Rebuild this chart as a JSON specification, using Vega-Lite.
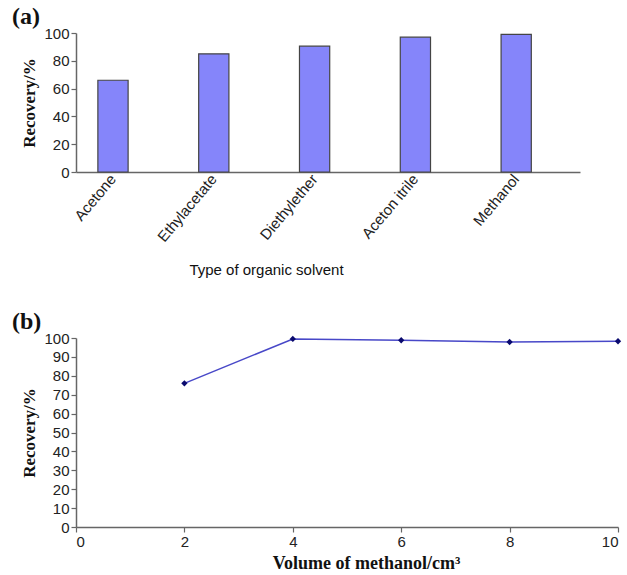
{
  "$schema": "https://vega.github.io/schema/vega-lite/v6.json",
  "padding": {"left": 11, "top": 5, "right": 2, "bottom": 3},
  "background": "white",
  "spacing": 32,
  "config": {
    "view": {"stroke": null},
    "axis": {
      "labelFont": "Liberation Sans",
      "labelFontSize": 15,
      "labelColor": "#222",
      "titleFont": "Liberation Serif",
      "titleFontWeight": "bold",
      "titleFontSize": 17,
      "titleColor": "#111",
      "domainColor": "#666",
      "domainWidth": 1.5,
      "tickColor": "#666",
      "tickWidth": 1.2,
      "tickSize": 5,
      "grid": false
    },
    "title": {"font": "Liberation Serif", "fontWeight": "bold", "fontSize": 24, "color": "#111"}
  },
  "vconcat": [
    {
      "title": {"text": "(a)", "anchor": "start", "frame": "bounds", "dx": -9, "dy": 9, "offset": 6},
      "width": 504,
      "height": 139,
      "data": {"values": [
        {"solvent": "Acetone", "recovery": 66},
        {"solvent": "Ethylacetate", "recovery": 85},
        {"solvent": "Diethylether", "recovery": 90.5},
        {"solvent": "Aceton itrile", "recovery": 97},
        {"solvent": "Methanol", "recovery": 99}
      ]},
      "mark": {"type": "bar", "color": "#8585fa", "stroke": "#444", "strokeWidth": 1.2},
      "encoding": {
        "x": {
          "field": "solvent", "type": "nominal", "sort": null,
          "scale": {"paddingInner": 0.7, "paddingOuter": 0.35, "align": 0.31},
          "axis": {
            "title": "Type of organic solvent",
            "titleFont": "Liberation Sans", "titleFontWeight": "normal", "titleFontSize": 15,
            "titleX": 190, "titlePadding": 18,
            "labelAngle": -50, "labelFontSize": 15, "ticks": false, "labelPadding": 4
          }
        },
        "y": {
          "field": "recovery", "type": "quantitative",
          "scale": {"domain": [0, 100]},
          "axis": {"title": "Recovery/%", "values": [0, 20, 40, 60, 80, 100], "titlePadding": 5}
        }
      }
    },
    {
      "title": {"text": "(b)", "anchor": "start", "frame": "bounds", "dx": -9, "dy": 9, "offset": 6},
      "width": 542,
      "height": 189,
      "data": {"values": [
        {"volume": 2, "recovery": 76},
        {"volume": 4, "recovery": 99.5},
        {"volume": 6, "recovery": 98.8},
        {"volume": 8, "recovery": 97.9},
        {"volume": 10, "recovery": 98.3}
      ]},
      "encoding": {
        "x": {
          "field": "volume", "type": "quantitative",
          "scale": {"domain": [0, 10], "nice": false},
          "axis": {"title": "Volume of methanol/cm³", "values": [0, 2, 4, 6, 8, 10], "titleFontSize": 18, "titleX": 290, "titlePadding": 5}
        },
        "y": {
          "field": "recovery", "type": "quantitative",
          "scale": {"domain": [0, 100]},
          "axis": {"title": "Recovery/%", "values": [0, 10, 20, 30, 40, 50, 60, 70, 80, 90, 100], "titlePadding": 5}
        }
      },
      "layer": [
        {"mark": {"type": "line", "color": "#4848c8", "strokeWidth": 1.5}},
        {"mark": {"type": "point", "shape": "diamond", "filled": true, "color": "#0a0a6e", "size": 40, "opacity": 1}}
      ]
    }
  ]
}
